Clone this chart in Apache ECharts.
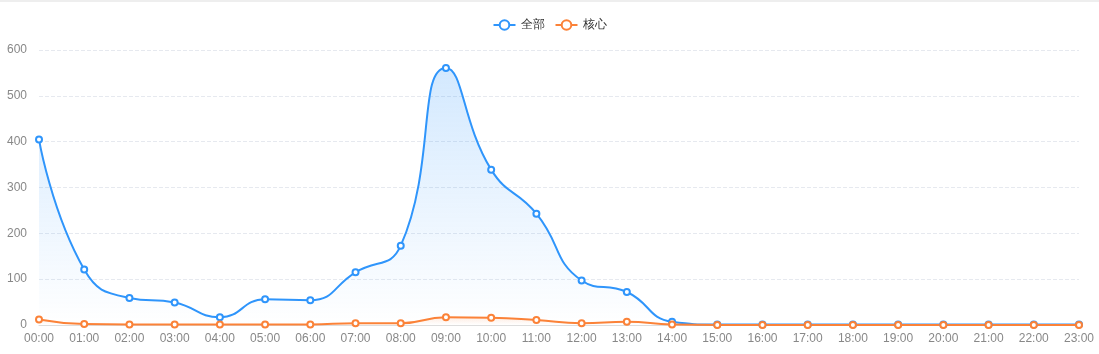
<!DOCTYPE html>
<html>
<head>
<meta charset="utf-8">
<script src="https://cdn.jsdelivr.net/npm/echarts@6/dist/echarts.min.js"></script>
<style>
  html, body { margin: 0; padding: 0; background: #fff; }
  #wrap { position: relative; width: 1099px; height: 354px; }
  #chart { width: 1099px; height: 354px; }
  #topline { position: absolute; left: 0; top: 0; width: 1099px; height: 2px; background: #eeeeee; }
</style>
</head>
<body>
<div id="wrap">
  <div id="chart"></div>
  <div id="topline"></div>
</div>
<script>
const hours = ["00:00","01:00","02:00","03:00","04:00","05:00","06:00","07:00","08:00","09:00","10:00","11:00",
               "12:00","13:00","14:00","15:00","16:00","17:00","18:00","19:00","20:00","21:00","22:00","23:00"];
const allValues  = [405, 121, 59, 49, 17, 56, 54, 115, 173, 561, 339, 243, 97, 72, 7, 1, 1, 1, 1, 1, 1, 1, 1, 1];
const coreValues = [12, 2, 1, 1, 1, 1, 1, 4, 4, 17, 16, 11, 4, 7, 1, 0, 0, 0, 0, 0, 0, 0, 0, 0];
const yTicks = [0, 100, 200, 300, 400, 500, 600];

const BLUE = "#2f95fb";
const ORANGE = "#fb8238";

const chart = echarts.init(document.getElementById("chart"));

function lineSeries(name, values, color, topAlpha){
  return {
    name: name,
    type: "line",
    data: values,
    smooth: true,
    symbol: "emptyCircle",
    symbolSize: 6,
    lineStyle: { width: 2, color: color },
    itemStyle: { color: color, borderWidth: 2 },
    areaStyle: {
      color: new echarts.graphic.LinearGradient(0, 0, 0, 1, [
        { offset: 0, color: echarts.color.modifyAlpha(color, topAlpha) },
        { offset: 1, color: echarts.color.modifyAlpha(color, 0) }
      ])
    }
  };
}

chart.setOption({
  animation: false,
  color: [BLUE, ORANGE],
  legend: {
    top: 14,
    left: "center",
    itemWidth: 22,
    itemHeight: 12,
    itemGap: 10,
    textStyle: { color: "#333", fontSize: 12 },
    data: ["全部", "核心"]
  },
  grid: { left: 39, right: 20, top: 50, bottom: 29 },
  xAxis: {
    type: "category",
    boundaryGap: false,
    data: hours,
    axisLine: { lineStyle: { color: "#dddddd" } },
    axisTick: { show: false },
    axisLabel: { color: "#888", fontSize: 12, margin: 8 }
  },
  yAxis: {
    type: "value",
    min: yTicks[0],
    max: yTicks[yTicks.length - 1],
    interval: 100,
    axisLine: { show: false },
    axisTick: { show: false },
    axisLabel: { color: "#888", fontSize: 12, margin: 12 },
    splitLine: { lineStyle: { type: "dashed", color: "#e6e9ef" } }
  },
  series: [
    lineSeries("全部", allValues, BLUE, 0.3),
    lineSeries("核心", coreValues, ORANGE, 0.2)
  ]
});
</script>
</body>
</html>
